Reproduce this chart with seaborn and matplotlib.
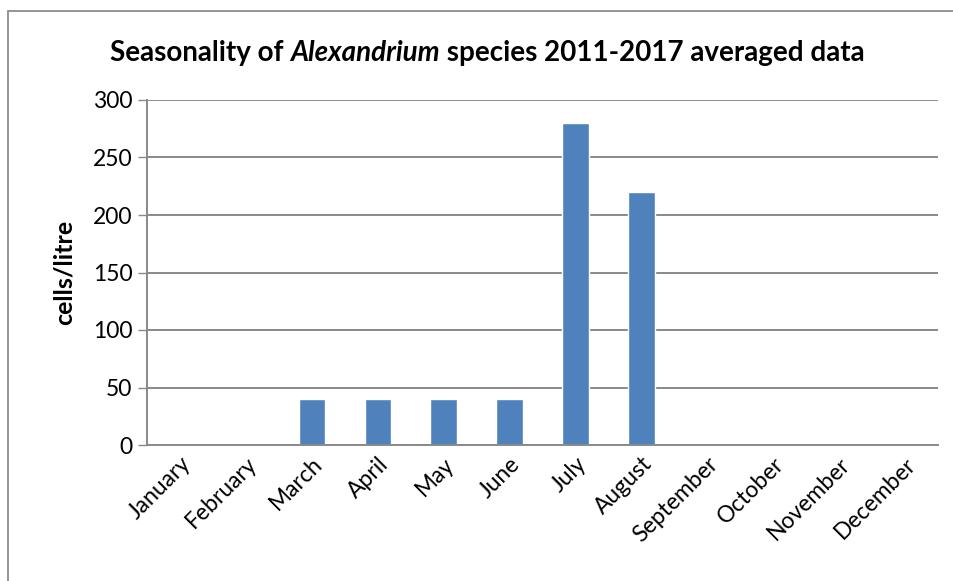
import matplotlib
matplotlib.use("Agg")
import matplotlib.pyplot as plt
from matplotlib.patches import Rectangle
import seaborn as sns
import pandas as pd

months = ["January", "February", "March", "April", "May", "June", "July",
          "August", "September", "October", "November", "December"]
cells_per_litre = [0, 0, 40, 40, 40, 40, 280, 220, 0, 0, 0, 0]
y_ticks = [0, 50, 100, 150, 200, 250, 300]

title_parts = [("Seasonality of ", "normal"), ("Alexandrium", "italic"),
               (" species 2011-2017 averaged data", "normal")]
y_label = "cells/litre"

sns.set_theme(style="white")
plt.rcParams["font.family"] = ["Lato", "DejaVu Sans"]
plt.rcParams["text.color"] = "black"
plt.rcParams["axes.labelcolor"] = "black"

BAR = "#4F81BD"
GRID = "#898989"
W, H = 954, 581
TICK_FS = 16.5

fig = plt.figure(figsize=(W / 100, H / 100), dpi=100)
ax = fig.add_axes([147 / W, 1 - 445 / H, (938 - 147) / W, 345 / H])

df = pd.DataFrame({"month": months, "value": cells_per_litre})
sns.barplot(data=df, x="month", y="value", color=BAR, saturation=1,
            width=0.4, ax=ax)

ax.set_ylim(0, 300)
ax.set_xlim(-0.5, len(months) - 0.5)
ax.set_yticks(y_ticks)
ax.set_yticklabels([str(t) for t in y_ticks], fontsize=TICK_FS, color="black")
ax.yaxis.grid(True, color=GRID, linewidth=1.4)
ax.set_axisbelow(True)
for s in ["top", "right"]:
    ax.spines[s].set_visible(False)
for s in ["left", "bottom"]:
    ax.spines[s].set_color(GRID)
    ax.spines[s].set_linewidth(1.4)
ax.tick_params(axis="y", direction="out", length=6.5, width=1.0, color=GRID,
               left=True, pad=4)
ax.tick_params(axis="x", length=0, pad=6)
ax.set_xticks(range(len(months)))
ax.set_xticklabels(months, rotation=45, ha="right", rotation_mode="anchor",
                   fontsize=TICK_FS, color="black")
ax.set_xlabel("")
ax.set_ylabel(y_label, fontsize=18, fontweight="bold", labelpad=12,
              color="black")

# Title assembled from pieces so the genus name can be italic
pieces = []
prev = None
for text, style in title_parts:
    if prev is None:
        t = fig.text(0.5, 1 - 61 / H, text, fontsize=20, fontweight="bold",
                     style=style, ha="left", va="baseline", color="black")
    else:
        t = ax.annotate(text, xy=(1, 0), xycoords=prev, fontsize=20,
                        fontweight="bold", style=style, ha="left",
                        va="bottom", annotation_clip=False, color="black")
    pieces.append(t)
    prev = t

fig.canvas.draw()
r = fig.canvas.get_renderer()
x0 = pieces[0].get_window_extent(r).x0
x1 = pieces[-1].get_window_extent(r).x1
center = 487
pieces[0].set_x((center - (x1 - x0) / 2) / W)

# Chart area frame
fig.patches.append(Rectangle((8 / W, -0.1), 1.2, 1 - 11 / H + 0.1,
                             transform=fig.transFigure, fill=False,
                             edgecolor="#8c8c8c", linewidth=1.3))

fig.savefig("out.png", dpi=100)
